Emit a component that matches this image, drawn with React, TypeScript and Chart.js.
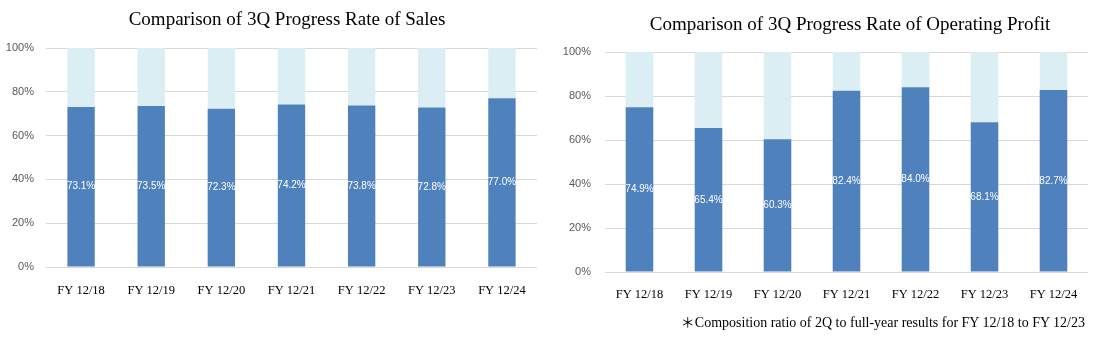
import React, { useEffect, useRef } from "react";
import { Chart, registerables } from "chart.js";

Chart.register(...registerables);

const categories = ["FY 12/18", "FY 12/19", "FY 12/20", "FY 12/21", "FY 12/22", "FY 12/23", "FY 12/24"];
const salesRates = [73.1, 73.5, 72.3, 74.2, 73.8, 72.8, 77.0];
const profitRates = [74.9, 65.4, 60.3, 82.4, 84.0, 68.1, 82.7];
const salesTitle = "Comparison of 3Q Progress Rate of Sales";
const profitTitle = "Comparison of 3Q Progress Rate of Operating Profit";
const footnote = "＊Composition ratio of 2Q to full-year results for FY 12/18 to FY 12/23";

const DARK = "#4F81BD";
const LIGHT = "#DAEEF3";
const GRID = "#D9D9D9";

type Geom = {
  width: number;
  height: number;
  yAxisWidth: number;
  yPad: number;
  xAxisHeight: number;
  xPad: number;
  padTop: number;
  padRight: number;
  titleX: number;
  titleY: number;
  barPct: number;
};

function makeChart(canvas: HTMLCanvasElement, values: number[], title: string, g: Geom) {
  const remainder = values.map((v) => +(100 - v).toFixed(1));
  const labelPlugin = {
    id: "centerLabels",
    afterDatasetsDraw(chart: any) {
      const ctx = chart.ctx;
      const meta = chart.getDatasetMeta(0);
      ctx.save();
      ctx.fillStyle = "#FFFFFF";
      ctx.font = "10px 'Liberation Sans', Arial, sans-serif";
      ctx.textAlign = "center";
      ctx.textBaseline = "middle";
      meta.data.forEach((bar: any, i: number) => {
        const y = (bar.y + bar.base) / 2;
        ctx.fillText(values[i].toFixed(1) + "%", bar.x, y);
      });
      ctx.restore();
    },
  };
  const titlePlugin = {
    id: "customTitle",
    afterDraw(chart: any) {
      const ctx = chart.ctx;
      ctx.save();
      ctx.fillStyle = "#000000";
      ctx.font = "19px 'Liberation Serif', 'Times New Roman', serif";
      ctx.textAlign = "center";
      ctx.textBaseline = "middle";
      ctx.fillText(title, g.titleX, g.titleY);
      ctx.restore();
    },
  };
  return new Chart(canvas, {
    type: "bar",
    data: {
      labels: categories,
      datasets: [
        {
          data: values,
          backgroundColor: DARK,
          borderWidth: 0,
          barPercentage: g.barPct,
          categoryPercentage: 1,
        },
        {
          data: remainder,
          backgroundColor: LIGHT,
          borderWidth: 0,
          barPercentage: g.barPct,
          categoryPercentage: 1,
        },
      ],
    },
    options: {
      animation: false,
      responsive: false,
      layout: { padding: { top: g.padTop, right: g.padRight, left: 0, bottom: 0 } },
      plugins: {
        legend: { display: false },
        title: { display: false },
        tooltip: { enabled: false },
      },
      scales: {
        x: {
          stacked: true,
          grid: { display: false, drawTicks: false },
          border: { display: false },
          ticks: {
            color: "#000000",
            padding: g.xPad,
            maxRotation: 0,
            font: { family: "'Liberation Serif', 'Times New Roman', serif", size: 12.5 },
          },
          afterFit(scale: any) {
            scale.height = g.xAxisHeight;
          },
        },
        y: {
          stacked: true,
          min: 0,
          max: 100,
          grid: { color: GRID, lineWidth: 1, drawTicks: false },
          border: { display: false },
          ticks: {
            stepSize: 20,
            color: "#595959",
            padding: g.yPad,
            font: { family: "'Liberation Sans', Arial, sans-serif", size: 11 },
            callback: (v: any) => v + "%",
          },
          afterFit(scale: any) {
            scale.width = g.yAxisWidth;
          },
        },
      },
    },
    plugins: [labelPlugin, titlePlugin],
  } as any);
}

const leftGeom: Geom = {
  width: 545,
  height: 338,
  yAxisWidth: 46,
  yPad: 12,
  xAxisHeight: 71,
  xPad: 16,
  padTop: 48,
  padRight: 8,
  titleX: 287,
  titleY: 20,
  barPct: 0.39,
};

const rightGeom: Geom = {
  width: 548,
  height: 338,
  yAxisWidth: 60,
  yPad: 14,
  xAxisHeight: 66,
  xPad: 15,
  padTop: 52,
  padRight: 5,
  titleX: 305,
  titleY: 25,
  barPct: 0.4,
};

function BarPanel({ values, title, geom, left }: { values: number[]; title: string; geom: Geom; left: number }) {
  const ref = useRef<HTMLCanvasElement | null>(null);
  useEffect(() => {
    if (!ref.current) return;
    const chart = makeChart(ref.current, values, title, geom);
    return () => chart.destroy();
  }, []);
  return (
    <canvas
      ref={ref}
      width={geom.width}
      height={geom.height}
      style={{ position: "absolute", left, top: 0, width: geom.width, height: geom.height }}
    />
  );
}

export default function App() {
  return (
    <div
      style={{
        position: "fixed",
        left: 0,
        top: 0,
        width: 1093,
        height: 338,
        background: "#FFFFFF",
        overflow: "hidden",
      }}
    >
      <BarPanel values={salesRates} title={salesTitle} geom={leftGeom} left={0} />
      <BarPanel values={profitRates} title={profitTitle} geom={rightGeom} left={545} />
      <div
        style={{
          position: "absolute",
          right: 8,
          top: 313,
          fontFamily: "'Liberation Serif', 'Noto Sans CJK JP', serif",
          fontSize: 14,
          lineHeight: "20px",
          color: "#000000",
          whiteSpace: "nowrap",
        }}
      >
        {footnote}
      </div>
    </div>
  );
}
